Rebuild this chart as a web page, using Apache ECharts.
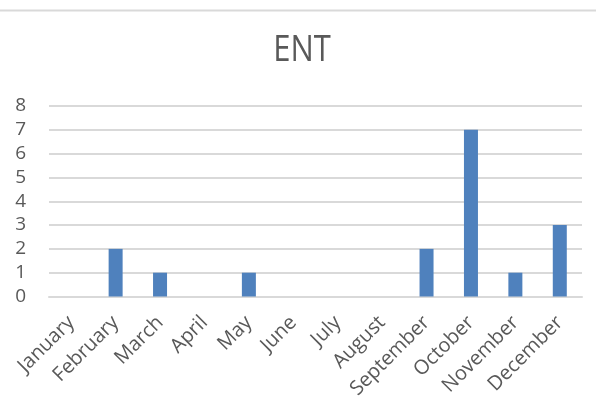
<!DOCTYPE html>
<html>
<head>
<meta charset="utf-8">
<script src="https://cdn.jsdelivr.net/npm/echarts@6/dist/echarts.min.js"></script>
<style>
  html, body { margin: 0; padding: 0; background: #ffffff; }
  #chart { width: 596px; height: 418px; }
</style>
</head>
<body>
<div id="chart"></div>
<script>
// Monthly ENT counts
const months = ['January', 'February', 'March', 'April', 'May', 'June',
  'July', 'August', 'September', 'October', 'November', 'December'];
const entCounts = [0, 2, 1, 0, 1, 0, 0, 0, 2, 7, 1, 3];
const yTicks = { min: 0, max: 8, interval: 1 };
const titleText = 'ENT';

const chart = echarts.init(document.getElementById('chart'), null, { renderer: 'canvas' });

chart.setOption({
  animation: false,
  backgroundColor: '#ffffff',
  graphic: [{
    // thin rule along the top edge
    type: 'line',
    shape: { x1: 0, y1: 10.5, x2: 596, y2: 10.5 },
    style: { stroke: '#d9d9d9', lineWidth: 2 }
  }, {
    // condensed chart title
    type: 'text',
    x: 302,
    y: 51,
    scaleX: 0.86,
    style: {
      text: titleText,
      align: 'center',
      verticalAlign: 'middle',
      fontFamily: '"Open Sans", "Noto Sans", sans-serif',
      fontSize: 36,
      fontWeight: 'normal',
      fill: '#595959'
    }
  }],
  grid: { left: 49, right: 14, top: 106, bottom: 121.5 },
  xAxis: {
    type: 'category',
    data: months,
    axisLine: { show: true, lineStyle: { color: '#d9d9d9', width: 2 } },
    axisTick: { show: false },
    axisLabel: {
      interval: 0,
      rotate: 45,
      margin: 23,
      color: '#595959',
      fontFamily: '"Open Sans", "Noto Sans", sans-serif',
      fontSize: 20
    }
  },
  yAxis: {
    type: 'value',
    min: yTicks.min,
    max: yTicks.max,
    interval: yTicks.interval,
    axisLine: { show: false },
    axisTick: { show: false },
    splitLine: { lineStyle: { color: '#d9d9d9', width: 2 } },
    axisLabel: {
      margin: 23,
      color: '#595959',
      fontFamily: '"Open Sans", "Noto Sans", sans-serif',
      fontSize: 19
    }
  },
  series: [{
    type: 'bar',
    data: entCounts,
    barWidth: 14,
    itemStyle: { color: '#4f81bd' }
  }]
});
</script>
</body>
</html>
